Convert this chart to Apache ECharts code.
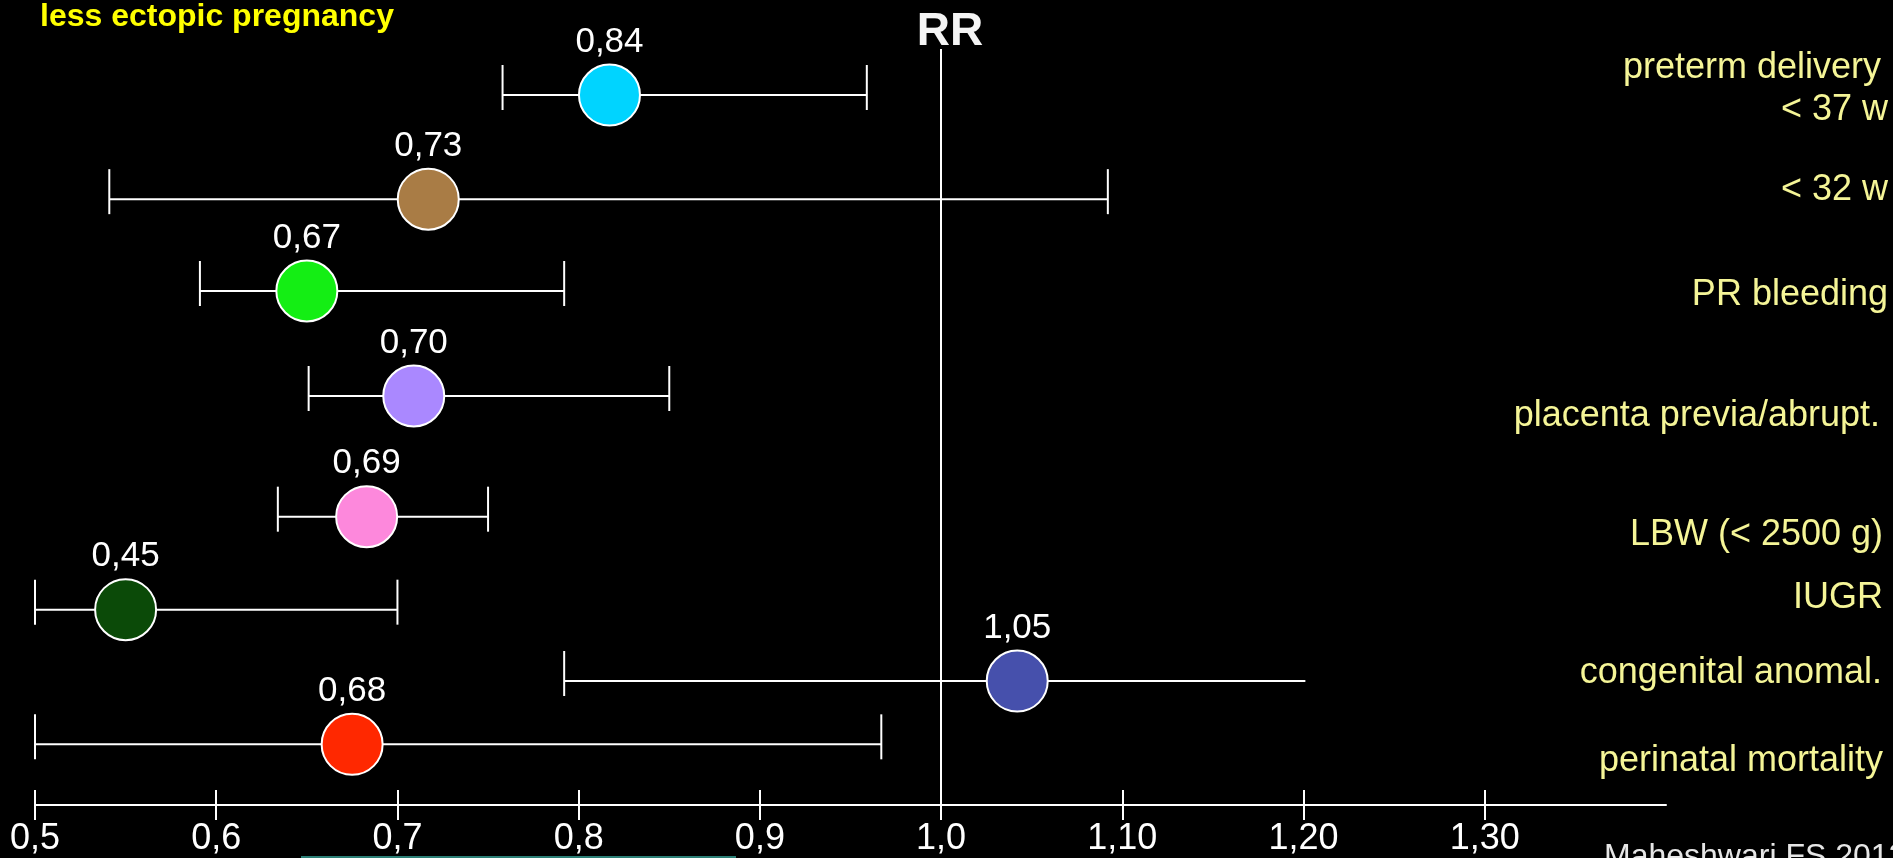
<!DOCTYPE html>
<html>
<head>
<meta charset="utf-8">
<script src="https://cdn.jsdelivr.net/npm/echarts@6/dist/echarts.min.js"></script>
<style>
  html, body { margin: 0; padding: 0; background: #000; }
  #chart { width: 1893px; height: 858px; }
</style>
</head>
<body>
<div id="chart"></div>
<script>
// ---- data ----
const outcomes = ['preterm < 37 w', 'preterm < 32 w', 'PR bleeding', 'placenta previa/abrupt.', 'LBW (< 2500 g)', 'IUGR', 'congenital anomal.', 'perinatal mortality'];
const rrLabels = ['0,84', '0,73', '0,67', '0,70', '0,69', '0,45', '1,05', '0,68'];
const rrPoint  = [0.817, 0.717, 0.650, 0.709, 0.683, 0.550, 1.042, 0.675];
const ciLow    = [0.758, 0.541, 0.591, 0.651, 0.634, 0.500, 0.792, 0.500];
const ciHigh   = [0.959, 1.092, 0.792, 0.850, 0.750, 0.700, 1.201, 0.967];
const highCap  = [true, true, true, true, true, true, false, true];
const tickValues = [0.5, 0.6, 0.7, 0.8, 0.9, 1.0, 1.1, 1.2, 1.3];
const tickLabels = ['0,5', '0,6', '0,7', '0,8', '0,9', '1,0', '1,10', '1,20', '1,30'];
const sideLabels = ['preterm delivery', '< 37 w', '< 32 w', 'PR bleeding', 'placenta previa/abrupt.', 'LBW (< 2500 g)', 'IUGR', 'congenital anomal.', 'perinatal mortality'];

// ---- layout / style ----
const rowPos = [0.487, 1.589, 2.561, 3.672, 4.949, 5.933, 6.688, 7.358];
const pointColors = ['#00d4ff', '#a97c45', '#14ee14', '#aa88ff', '#fd88dc', '#0b4a08', '#4650ac', '#ff2800'];
const sideLabelY = [68, 110, 190, 295, 416, 535, 598, 673, 761];
const sideLabelRight = [1881, 1888, 1888, 1888, 1880, 1883, 1883, 1882, 1883];
const FONT = "'Liberation Sans', Arial, Helvetica, sans-serif";

const chart = echarts.init(document.getElementById('chart'), null, { renderer: 'canvas' });

const ciData = outcomes.map((o, i) => [ciLow[i], ciHigh[i], rowPos[i], highCap[i] ? 1 : 0]);
const pointData = outcomes.map((o, i) => ({
  value: [rrPoint[i], rowPos[i]],
  itemStyle: { color: pointColors[i] },
  label: { formatter: rrLabels[i] }
}));

const graphics = [
  { type: 'text', left: 40, top: 1, style: { text: 'less ectopic pregnancy', fill: '#ffff00', font: "bold 32px " + FONT } },
  { type: 'text', x: 950, y: 32, style: { text: 'RR', fill: '#f4f4f4', font: "bold 46px " + FONT, align: 'center', verticalAlign: 'middle' } },
  { type: 'text', x: 1604, y: 841, style: { text: 'Maheshwari FS 2012', fill: '#e6e6e6', font: "32px " + FONT, align: 'left', verticalAlign: 'top' } },
  { type: 'line', shape: { x1: 301, y1: 857, x2: 736, y2: 857 }, style: { stroke: '#2b7f76', lineWidth: 2 } }
];
sideLabels.forEach((t, i) => {
  graphics.push({
    type: 'text', x: sideLabelRight[i], y: sideLabelY[i],
    style: { text: t, fill: '#f5f597', font: "36px " + FONT, align: 'right', verticalAlign: 'middle' }
  });
});

const option = {
  backgroundColor: '#000000',
  animation: false,
  grid: { left: 35, right: 227, top: 49, bottom: 53, containLabel: false },
  xAxis: [
    {
      type: 'value', min: 0.5, max: 1.4, interval: 0.1, position: 'bottom',
      splitLine: { show: false },
      axisLine: { show: true, onZero: false, lineStyle: { color: '#ffffff', width: 2 } },
      axisTick: { show: true, length: 15, customValues: tickValues, lineStyle: { color: '#ffffff', width: 2 } },
      axisLabel: {
        show: true, customValues: tickValues, margin: 16, color: '#ffffff',
        fontFamily: FONT, fontSize: 36,
        formatter: (v) => tickLabels[Math.round((v - 0.5) * 10)]
      }
    },
    {
      type: 'value', min: 0.5, max: 1.4, interval: 0.1, position: 'bottom',
      splitLine: { show: false },
      axisLine: { show: false, onZero: false },
      axisTick: { show: true, inside: true, length: 15, customValues: tickValues, lineStyle: { color: '#ffffff', width: 2 } },
      axisLabel: { show: false }
    }
  ],
  yAxis: { type: 'value', min: 0, max: 8, inverse: true, show: false, splitLine: { show: false } },
  series: [
    {
      type: 'custom',
      name: 'CI',
      xAxisIndex: 0,
      data: ciData,
      z: 2,
      renderItem: function (params, api) {
        const p1 = api.coord([api.value(0), api.value(2)]);
        const p2 = api.coord([api.value(1), api.value(2)]);
        const st = { stroke: '#ffffff', lineWidth: 2 };
        const children = [
          { type: 'line', shape: { x1: p1[0], y1: p1[1], x2: p2[0], y2: p2[1] }, style: st },
          { type: 'line', shape: { x1: p1[0], y1: p1[1] - 30, x2: p1[0], y2: p1[1] + 15 }, style: st }
        ];
        if (api.value(3) === 1) {
          children.push({ type: 'line', shape: { x1: p2[0], y1: p2[1] - 30, x2: p2[0], y2: p2[1] + 15 }, style: st });
        }
        return { type: 'group', children: children };
      }
    },
    {
      type: 'scatter',
      name: 'RR',
      xAxisIndex: 0,
      z: 5,
      symbol: 'circle',
      symbolSize: 61,
      data: pointData,
      itemStyle: { borderColor: '#ffffff', borderWidth: 2, opacity: 1 },
      label: {
        show: true, position: 'top', distance: 4, color: '#ffffff',
        fontFamily: FONT, fontSize: 35
      },
      markLine: {
        silent: true, symbol: 'none', label: { show: false },
        lineStyle: { color: '#ffffff', width: 2, type: 'solid' },
        data: [{ xAxis: 1.0 }]
      }
    }
  ],
  graphic: graphics
};

chart.setOption(option);
</script>
</body>
</html>
